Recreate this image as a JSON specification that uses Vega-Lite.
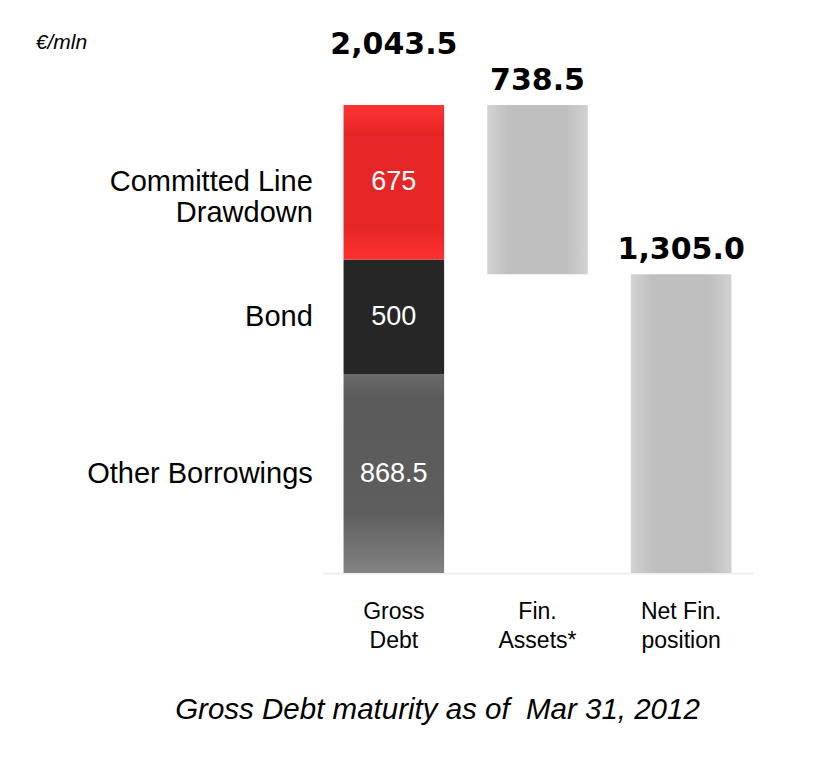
{
  "$schema": "https://vega.github.io/schema/vega-lite/v6.json",
  "width": 431,
  "height": 468,
  "autosize": {"type": "none"},
  "padding": {"left": 322, "top": 105, "right": 72, "bottom": 193},
  "background": "white",
  "config": {"view": {"stroke": null}, "font": "Liberation Sans"},
  "title": {
    "text": "Gross Debt maturity as of\u00a0 Mar 31, 2012",
    "orient": "bottom",
    "anchor": "middle",
    "dx": -100,
    "offset": 44,
    "font": "Liberation Sans",
    "fontSize": 29.5,
    "fontStyle": "italic",
    "fontWeight": "normal",
    "color": "black"
  },
  "datasets": {
    "segments": [
      {"cat": "Gross Debt", "segment": "Other Borrowings", "start": 0, "end": 868.5, "value": 868.5},
      {"cat": "Gross Debt", "segment": "Bond", "start": 868.5, "end": 1368.5, "value": 500},
      {"cat": "Gross Debt", "segment": "Committed Line Drawdown", "start": 1368.5, "end": 2043.5, "value": 675},
      {"cat": "Fin. Assets*", "segment": "Fin. Assets", "start": 1305, "end": 2043.5, "value": 738.5},
      {"cat": "Net Fin. position", "segment": "Net Fin. position", "start": 0, "end": 1305, "value": 1305}
    ],
    "totals": [
      {"cat": "Gross Debt", "total": 2043.5, "top": 2043.5},
      {"cat": "Fin. Assets*", "total": 738.5, "top": 2043.5},
      {"cat": "Net Fin. position", "total": 1305, "top": 1305}
    ]
  },
  "encoding": {
    "x": {
      "field": "cat",
      "type": "nominal",
      "sort": ["Gross Debt", "Fin. Assets*", "Net Fin. position"],
      "scale": {"domain": ["Gross Debt", "Fin. Assets*", "Net Fin. position"], "paddingInner": 0.3, "paddingOuter": 0.15},
      "axis": {
        "title": null,
        "labelAngle": 0,
        "ticks": false,
        "domain": true,
        "domainColor": "#efefef",
        "domainWidth": 2,
        "labelFont": "Liberation Sans",
        "labelFontSize": 23,
        "labelColor": "black",
        "labelPadding": 27,
        "labelLineHeight": 29,
        "labelExpr": "datum.label == 'Net Fin. position' ? ['Net Fin.', 'position'] : split(datum.label, ' ')"
      }
    }
  },
  "layer": [
    {
      "data": {"name": "segments"},
      "transform": [{"filter": "datum.segment == 'Other Borrowings'"}],
      "mark": {
        "type": "bar",
        "color": {"gradient": "linear", "x1": 0, "y1": 0, "x2": 0, "y2": 1,
          "stops": [{"offset": 0, "color": "#6a6a6a"}, {"offset": 0.12, "color": "#5a5a5a"}, {"offset": 0.7, "color": "#5e5e5e"}, {"offset": 1, "color": "#838383"}]}
      },
      "encoding": {
        "y": {
          "field": "start",
          "type": "quantitative",
          "scale": {"domain": [0, 2043.5], "nice": false},
          "axis": {
            "labels": false, "ticks": false, "domain": false, "grid": false,
            "title": "€/mln",
            "titleAngle": 0,
            "titleX": -261,
            "titleY": -63,
            "titleAlign": "center",
            "titleBaseline": "middle",
            "titleFont": "Liberation Sans",
            "titleFontSize": 21,
            "titleFontStyle": "italic",
            "titleFontWeight": "normal",
            "titleColor": "black"
          }
        },
        "y2": {"field": "end"}
      }
    },
    {
      "data": {"name": "segments"},
      "transform": [{"filter": "datum.segment == 'Bond'"}],
      "mark": {"type": "bar", "color": "#262626"},
      "encoding": {"y": {"field": "start", "type": "quantitative"}, "y2": {"field": "end"}}
    },
    {
      "data": {"name": "segments"},
      "transform": [{"filter": "datum.segment == 'Committed Line Drawdown'"}],
      "mark": {
        "type": "bar",
        "color": {"gradient": "linear", "x1": 0, "y1": 0, "x2": 0, "y2": 1,
          "stops": [{"offset": 0, "color": "#ff3333"}, {"offset": 0.18, "color": "#e62626"}, {"offset": 0.8, "color": "#e62626"}, {"offset": 1, "color": "#ff3030"}]}
      },
      "encoding": {"y": {"field": "start", "type": "quantitative"}, "y2": {"field": "end"}}
    },
    {
      "data": {"name": "segments"},
      "transform": [{"filter": "datum.cat != 'Gross Debt'"}],
      "mark": {
        "type": "bar",
        "color": {"gradient": "linear", "x1": 0, "y1": 0, "x2": 1, "y2": 0,
          "stops": [{"offset": 0, "color": "#d3d3d3"}, {"offset": 0.22, "color": "#bfbfbf"}, {"offset": 0.78, "color": "#bfbfbf"}, {"offset": 1, "color": "#d1d1d1"}]}
      },
      "encoding": {"y": {"field": "start", "type": "quantitative"}, "y2": {"field": "end"}}
    },
    {
      "data": {"name": "segments"},
      "transform": [
        {"filter": "datum.cat == 'Gross Debt'"},
        {"calculate": "(datum.start + datum.end) / 2", "as": "mid"}
      ],
      "mark": {"type": "text", "color": "white", "font": "Liberation Sans", "fontSize": 27, "baseline": "middle", "align": "center"},
      "encoding": {
        "y": {"field": "mid", "type": "quantitative"},
        "text": {"field": "value", "type": "quantitative"}
      }
    },
    {
      "data": {"name": "segments"},
      "transform": [
        {"filter": "datum.cat == 'Gross Debt'"},
        {"calculate": "(datum.start + datum.end) / 2", "as": "mid"}
      ],
      "mark": {
        "type": "text",
        "color": "black",
        "font": "Liberation Sans",
        "fontSize": 29,
        "lineHeight": 31,
        "baseline": "middle",
        "align": "right",
        "dx": -81,
        "text": {"expr": "datum.segment === 'Committed Line Drawdown' ? ['Committed Line', 'Drawdown'] : datum.segment"}
      },
      "encoding": {
        "y": {"field": "mid", "type": "quantitative"}
      }
    },
    {
      "data": {"name": "totals"},
      "transform": [{"filter": "datum.cat == 'Gross Debt'"}],
      "mark": {"type": "text", "color": "black", "font": "DejaVu Sans", "fontWeight": "bold", "fontSize": 30, "baseline": "middle", "align": "center", "dy": -60},
      "encoding": {
        "y": {"field": "top", "type": "quantitative"},
        "text": {"field": "total", "type": "quantitative", "format": ",.1f"}
      }
    },
    {
      "data": {"name": "totals"},
      "transform": [{"filter": "datum.cat != 'Gross Debt'"}],
      "mark": {"type": "text", "color": "black", "font": "DejaVu Sans", "fontWeight": "bold", "fontSize": 30, "baseline": "middle", "align": "center", "dy": -24},
      "encoding": {
        "y": {"field": "top", "type": "quantitative"},
        "text": {"field": "total", "type": "quantitative", "format": ",.1f"}
      }
    }
  ]
}
